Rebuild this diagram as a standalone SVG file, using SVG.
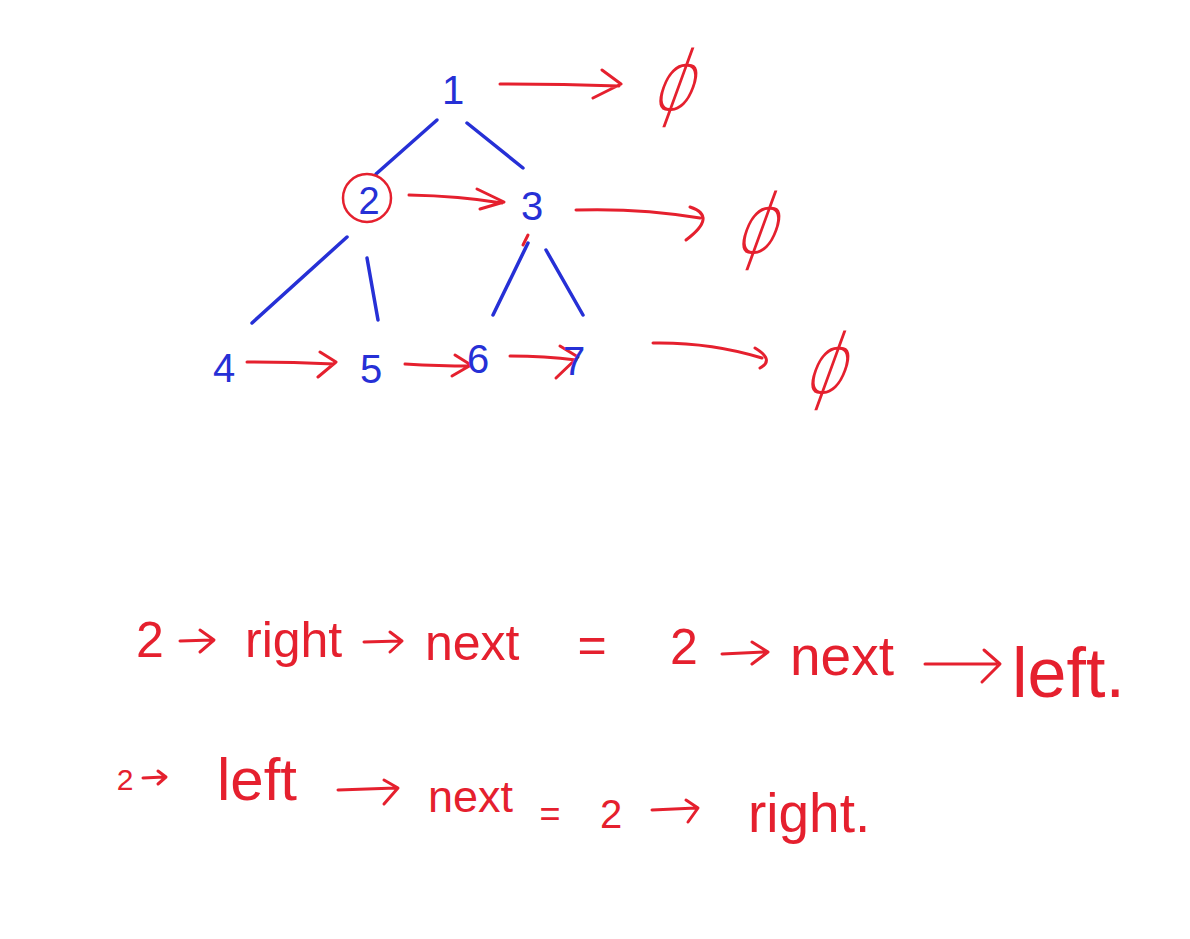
<svg xmlns="http://www.w3.org/2000/svg" width="1190" height="939" viewBox="0 0 1190 939">
<style>
.b{fill:#2630d6;font-family:"Liberation Sans",Arial,sans-serif;text-anchor:middle}
.r{fill:#e5202e;font-family:"Liberation Sans",Arial,sans-serif}
.phi{fill:#e5202e;font-family:"DejaVu Sans",sans-serif;font-weight:200;font-size:72px;text-anchor:middle}
.edge{stroke:#2630d6;stroke-width:3.5;stroke-linecap:round;fill:none}
.ar{stroke:#e5202e;stroke-width:3;stroke-linecap:round;stroke-linejoin:round;fill:none}
</style>
<rect width="1190" height="939" fill="#fff"/>
<g id="connectors">
<path class="edge" d="M437 120 L376 174"/>
<path class="edge" d="M467 123 L523 168"/>
<path class="edge" d="M347 237 L252 323"/>
<path class="edge" d="M367 258 L378 320"/>
<path class="edge" d="M528 243 L493 315"/>
<path class="edge" d="M546 250 L583 315"/>
<path class="ar" d="M500 84 Q560 84 619 86 M602 70 L621 84 L593 98"/>
<path class="ar" d="M409 195 Q460 196 502 203 M477 189 L504 202 L480 209"/>
<path class="ar" d="M576 210 Q640 208 700 218 M690 207 Q718 216 686 240"/>
<path class="ar" d="M528 235 L523 245" stroke-width="1.5"/>
<path class="ar" d="M247 362 Q290 362 334 364 M320 352 L336 362 L318 377"/>
<path class="ar" d="M405 364 Q440 366 470 366 M455 355 L471 365 L452 376"/>
<path class="ar" d="M510 356 Q545 356 576 360 M560 346 L578 357 L556 378"/>
<path class="ar" d="M653 343 Q710 342 762 358 M755 348 Q775 360 760 368"/>
</g>
<g id="n1"><text class="b" x="453" y="104" font-size="40">1</text></g>
<g id="n2"><circle cx="367" cy="198" r="24" fill="none" stroke="#e5202e" stroke-width="2.5"/><text class="b" x="369" y="214" font-size="38">2</text></g>
<g id="n3"><text class="b" x="532" y="220" font-size="40">3</text></g>
<g id="n4"><text class="b" x="224" y="382" font-size="40">4</text></g>
<g id="n5"><text class="b" x="371" y="383" font-size="40">5</text></g>
<g id="n6"><text class="b" x="478" y="373" font-size="40">6</text></g>
<g id="n7"><text class="b" x="574" y="375" font-size="40">7</text></g>
<g id="null1"><text class="phi" transform="translate(670,110) scale(0.9,1.15) skewX(-25)">ϕ</text></g>
<g id="null2"><text class="phi" transform="translate(753,253) scale(0.9,1.15) skewX(-25)">ϕ</text></g>
<g id="null3"><text class="phi" transform="translate(822,393) scale(0.9,1.15) skewX(-25)">ϕ</text></g>
<g id="formula1">
<text class="r" x="150" y="657" font-size="50" text-anchor="middle">2</text>
<path class="ar" d="M180 641 L212 640 M200 630 L214 640 L200 652"/>
<text class="r" x="245" y="657" font-size="50">right</text>
<path class="ar" d="M364 642 L400 641 M390 632 L402 641 L390 652"/>
<text class="r" x="425" y="660" font-size="50">next</text>
<text class="r" x="592" y="662" font-size="50" text-anchor="middle">=</text>
<text class="r" x="684" y="664" font-size="50" text-anchor="middle">2</text>
<path class="ar" d="M722 654 L766 652 M752 642 L768 652 L752 664"/>
<text class="r" x="790" y="675" font-size="55">next</text>
<path class="ar" d="M925 664 L996 664 M984 650 L1000 664 L982 682"/>
<text class="r" x="1012" y="697" font-size="70">left.</text>
</g>
<g id="formula2">
<text class="r" x="125" y="790" font-size="30" text-anchor="middle">2</text>
<path class="ar" d="M143 778 L164 777 M158 771 L166 777 L158 784"/>
<text class="r" x="217" y="800" font-size="60">left</text>
<path class="ar" d="M338 790 L396 788 M384 780 L398 788 L384 804"/>
<text class="r" x="428" y="812" font-size="45">next</text>
<text class="r" x="550" y="826" font-size="36" text-anchor="middle">=</text>
<text class="r" x="611" y="828" font-size="40" text-anchor="middle">2</text>
<path class="ar" d="M652 810 L696 808 M686 800 L698 808 L688 822"/>
<text class="r" x="748" y="832" font-size="55">right.</text>
</g>
</svg>
